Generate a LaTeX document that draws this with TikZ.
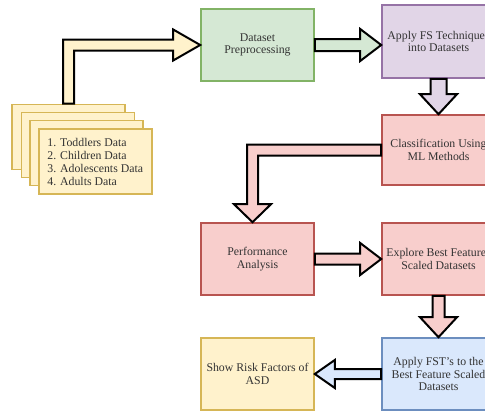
\documentclass[tikz,border=0pt]{standalone}
\usepackage{fontspec}
\setmainfont{Liberation Serif}
\usetikzlibrary{calc}
\definecolor{gfill}{HTML}{D5E8D4}\definecolor{gline}{HTML}{82B366}
\definecolor{pfill}{HTML}{E1D5E7}\definecolor{pline}{HTML}{9673A6}
\definecolor{rfill}{HTML}{F8CECC}\definecolor{rline}{HTML}{B85450}
\definecolor{yfill}{HTML}{FFF2CC}\definecolor{yline}{HTML}{D6B656}
\definecolor{bfill}{HTML}{DAE8FC}\definecolor{bline}{HTML}{6C8EBF}
\definecolor{txt}{HTML}{333333}
\begin{document}
\begin{tikzpicture}[x=1pt,y=-1pt,
  box/.style={draw,line width=1.6pt,minimum width=113pt,minimum height=72pt,align=center,
    font=\fontsize{11.8}{12.8}\selectfont,text=txt,inner sep=1pt},
  card/.style={draw=yline,fill=yfill,line width=1.6pt,minimum width=113pt,minimum height=65pt,inner sep=0pt},
  barrow/.style={draw=black,line width=2pt,line join=miter}]
\useasboundingbox (0,0) rectangle (485,410);
\clip (0,0) rectangle (485,410);
% boxes
\node[box,draw=gline,fill=gfill] (dp) at (257.5,45) {Dataset\\Preprocessing};
\node[box,draw=pline,fill=pfill,minimum height=73pt] (fs) at (438.5,41.5) {Apply FS Techniques\\into Datasets};
\node[box,draw=rline,fill=rfill,minimum height=70pt] (cl) at (438.5,150) {Classification Using\\ML Methods};
\node[box,draw=rline,fill=rfill] (pa) at (257.5,259) {Performance\\Analysis};
\node[box,draw=rline,fill=rfill] (eb) at (438.5,259) {Explore Best Features\\Scaled Datasets};
\node[box,draw=bline,fill=bfill] (ft) at (438.5,374) {Apply FST's to the\\Best Feature Scaled\\Datasets};
\node[box,draw=yline,fill=yfill] (sr) at (257.5,374) {Show Risk Factors of\\ASD};
% stacked data cards
\node[card] (c1) at (68.5,137) {};
\node[card] (c2) at (78,145) {};
\node[card] (c3) at (86.5,153) {};
\node[card] (c4) at (95.5,161.5) {};
\node[anchor=west,align=left,inner sep=0pt,text=txt,font=\fontsize{11.8}{13}\selectfont] (ct) at ($(c4.west)+(9,0)$)
  {1. Toddlers Data\\2. Children Data\\3. Adolescents Data\\4. Adults Data};
% block arrows
\draw[barrow,fill=yfill] ($(c1.north)+(-5.5,0)$) |- ($(dp.west)+(-27,-5.5)$) -- ++(0,-10) -- (dp.west)
  -- ++(-27,15.5) -- ++(0,-10) -| ($(c1.north)+(5.5,0)$) -- cycle;
\draw[barrow,fill=gfill] ($(dp.east)+(0,-6)$) -- ($(fs.west|-dp.east)+(-21,-6)$) -- ++(0,-10) -- (fs.west|-dp.east)
  -- ++(-21,16) -- ++(0,-10) -- ($(dp.east)+(0,6)$) -- cycle;
\draw[barrow,fill=pfill] ($(fs.south)+(-8,0)$) -- ($(cl.north)+(-8,-20)$) -- ++(-10.5,0) -- (cl.north)
  -- ++(18.5,-20) -- ++(-10.5,0) -- ($(fs.south)+(8,0)$) -- cycle;
\draw[barrow,fill=rfill] ($(cl.west)+(0,-5.5)$) -| ($(pa.north)+(-10.5,-18)$) -- ++(-13,0) -- ($(pa.north)+(-5,0)$)
  -- ++(18.5,-18) -- ++(-13,0) |- ($(cl.west)+(0,5.5)$) -- cycle;
\draw[barrow,fill=rfill] ($(pa.east)+(0,-5.5)$) -- ($(eb.west)+(-21,-5.5)$) -- ++(0,-10.5) -- (eb.west)
  -- ++(-21,16) -- ++(0,-10.5) -- ($(pa.east)+(0,5.5)$) -- cycle;
\draw[barrow,fill=rfill] ($(eb.south)+(-6,0)$) -- ($(ft.north)+(-6,-20)$) -- ++(-12.5,0) -- (ft.north)
  -- ++(18.5,-20) -- ++(-12.5,0) -- ($(eb.south)+(6,0)$) -- cycle;
\draw[barrow,fill=bfill] ($(ft.west)+(0,-5)$) -- ($(sr.east)+(20,-5)$) -- ++(0,-9) -- (sr.east)
  -- ++(20,14) -- ++(0,-9) -- ($(ft.west)+(0,5)$) -- cycle;
\end{tikzpicture}
\end{document}
